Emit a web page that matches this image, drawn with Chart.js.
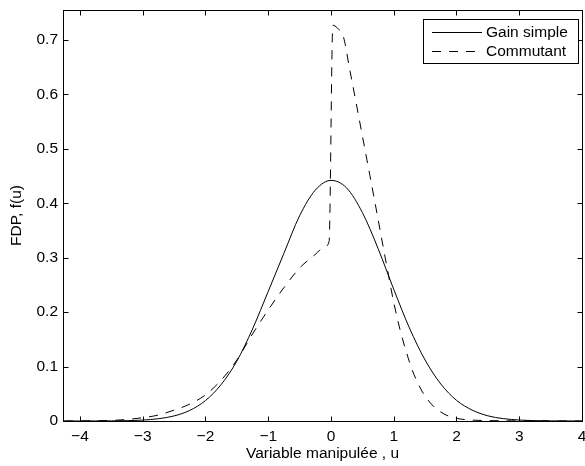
<!DOCTYPE html>
<html>
<head>
<meta charset="utf-8">
<script src="https://cdn.jsdelivr.net/npm/chart.js@4/dist/chart.umd.min.js"></script>
<style>
  body { margin: 0; background: #fff; }
  #wrap { width: 585px; height: 466px; }
</style>
</head>
<body>
<div id="wrap"><canvas id="pdfChart" width="585" height="466"></canvas></div>
<script>
// series: Gain simple
const uSimple = [-4.25, -4, -3.75, -3.5, -3.25, -3, -2.75, -2.5, -2.25, -2, -1.75, -1.5, -1.25, -1, -0.75, -0.5, -0.25,
  0, 0.25, 0.5, 0.75, 1, 1.25, 1.5, 1.75, 2, 2.25, 2.5, 2.75, 3, 3.25, 3.5, 3.75, 4];
const fSimple = [0.0000, 0.0000, 0.0001, 0.0002, 0.0006, 0.0017, 0.0042, 0.0093, 0.0195, 0.0375, 0.067, 0.110, 0.169, 0.238, 0.308, 0.377, 0.424,
  0.442, 0.428, 0.383, 0.317, 0.242, 0.171, 0.112, 0.068, 0.038, 0.020, 0.0095, 0.0043, 0.0018, 0.0007, 0.0002, 0.0001, 0.0000];

// series: Commutant
const uComm = [-4.25, -4, -3.5, -3, -2.75, -2.5, -2.25, -2, -1.75, -1.5, -1.25, -1, -0.75, -0.5, -0.25, -0.1, -0.03,
  0.03, 0.1, 0.2, 0.3, 0.4, 0.5, 0.62, 0.7, 0.83, 0.9, 1, 1.1, 1.2, 1.3, 1.45, 1.6, 1.8, 2, 2.2, 2.5, 3, 3.5, 4];
const fComm = [0, 0.0002, 0.001, 0.006, 0.011, 0.020, 0.031, 0.048, 0.075, 0.112, 0.160, 0.204, 0.245, 0.281, 0.306, 0.320, 0.330,
  0.727, 0.722, 0.705, 0.645, 0.585, 0.524, 0.451, 0.402, 0.321, 0.278, 0.218, 0.168, 0.127, 0.092, 0.055, 0.031, 0.013, 0.005, 0.002, 0.0008, 0.0002, 0.0001, 0];

const seriesNames = ['Gain simple', 'Commutant'];
const xTicks = [-4, -3, -2, -1, 0, 1, 2, 3, 4];
const yTicks = [0, 0.1, 0.2, 0.3, 0.4, 0.5, 0.6, 0.7];
const xRange = [-4.27, 4];
const yRange = [0, 0.755];

const FONT = "'Liberation Sans', Arial, Helvetica, sans-serif";
const FSIZE = 15.5;
const DASH = [9, 8];

function toPoints(xs, ys) {
  return xs.map((x, i) => ({ x: x, y: ys[i] }));
}

function fmt(v) {
  // matlab style minus sign
  let s = String(Math.round(v * 10) / 10);
  return s.replace('-', '\u2212');
}

// box round the plot + inward ticks on all four sides
const boxPlugin = {
  id: 'boxPlugin',
  afterDatasetsDraw(chart) {
    const ctx = chart.ctx;
    const a = chart.chartArea;
    const xs = chart.scales.x;
    const ys = chart.scales.y;
    const L = Math.round(a.left) + 0.5, R = Math.round(a.right) + 0.5;
    const T = Math.round(a.top) + 0.5, B = Math.round(a.bottom) + 0.5;
    ctx.save();
    ctx.strokeStyle = '#000';
    ctx.lineWidth = 1;
    ctx.setLineDash([]);
    ctx.strokeRect(L, T, R - L, B - T);
    ctx.beginPath();
    xTicks.forEach(v => {
      const px = Math.round(xs.getPixelForValue(v)) + 0.5;
      ctx.moveTo(px, B); ctx.lineTo(px, B - 5);
      ctx.moveTo(px, T); ctx.lineTo(px, T + 5);
    });
    yTicks.forEach(v => {
      const py = Math.round(ys.getPixelForValue(v)) + 0.5;
      ctx.moveTo(L, py); ctx.lineTo(L + 5, py);
      ctx.moveTo(R, py); ctx.lineTo(R - 5, py);
    });
    ctx.stroke();
    ctx.restore();
  }
};

// legend box in the upper right corner
const legendPlugin = {
  id: 'legendPlugin',
  afterDraw(chart) {
    const ctx = chart.ctx;
    const bx = 423.5, by = 19.5, bw = 155, bh = 44;
    ctx.save();
    ctx.fillStyle = '#fff';
    ctx.fillRect(bx, by, bw, bh);
    ctx.strokeStyle = '#000';
    ctx.lineWidth = 1;
    ctx.strokeRect(bx, by, bw, bh);
    ctx.font = FSIZE + 'px ' + FONT;
    ctx.textBaseline = 'middle';
    ctx.fillStyle = '#000';
    const rows = [32.5, 51.5];
    chart.data.datasets.forEach((ds, i) => {
      ctx.beginPath();
      ctx.setLineDash(ds.borderDash || []);
      ctx.moveTo(432, rows[i]);
      ctx.lineTo(482, rows[i]);
      ctx.stroke();
      ctx.setLineDash([]);
      ctx.fillText(ds.label, 486, rows[i] + 0.5);
    });
    ctx.restore();
  }
};

const ctx = document.getElementById('pdfChart').getContext('2d');
const myChart = new Chart(ctx, {
  type: 'line',
  data: {
    datasets: [{
      label: seriesNames[0],
      data: toPoints(uSimple, fSimple),
      borderColor: '#000',
      borderWidth: 1,
      pointRadius: 0,
      cubicInterpolationMode: 'monotone'
    }, {
      label: seriesNames[1],
      data: toPoints(uComm, fComm),
      borderColor: '#000',
      borderWidth: 1,
      borderDash: DASH,
      pointRadius: 0,
      cubicInterpolationMode: 'monotone'
    }]
  },
  options: {
    responsive: false,
    animation: false,
    layout: { padding: { left: 0, right: 3, top: 10, bottom: 0 } },
    plugins: {
      legend: { display: false },
      tooltip: { enabled: false }
    },
    scales: {
      x: {
        type: 'linear',
        min: xRange[0],
        max: xRange[1],
        bounds: 'data',
        grid: { display: false, drawTicks: false },
        border: { display: false },
        ticks: {
          padding: 6,
          color: '#000',
          font: { family: FONT, size: FSIZE },
          maxRotation: 0,
          autoSkip: false,
          callback: v => fmt(v)
        },
        afterBuildTicks: s => { s.ticks = xTicks.map(v => ({ value: v })); },
        title: {
          display: true,
          text: 'Variable manipulée , u',
          color: '#000',
          font: { family: FONT, size: FSIZE },
          padding: { top: 0, bottom: 3 }
        },
        afterFit: s => { s.height = 45; s.paddingLeft = 0; s.paddingRight = 0; }
      },
      y: {
        type: 'linear',
        min: yRange[0],
        max: yRange[1],
        bounds: 'data',
        grid: { display: false, drawTicks: false },
        border: { display: false },
        ticks: {
          padding: 5,
          color: '#000',
          font: { family: FONT, size: FSIZE },
          autoSkip: false,
          callback: v => fmt(v)
        },
        afterBuildTicks: s => { s.ticks = yTicks.map(v => ({ value: v })); },
        title: {
          display: true,
          text: 'FDP, f(u)',
          color: '#000',
          font: { family: FONT, size: FSIZE },
          padding: { top: 7, bottom: 0 }
        },
        afterFit: s => { s.width = 63; s.paddingTop = 0; s.paddingBottom = 0; }
      }
    }
  },
  plugins: [boxPlugin, legendPlugin]
});
</script>
</body>
</html>
